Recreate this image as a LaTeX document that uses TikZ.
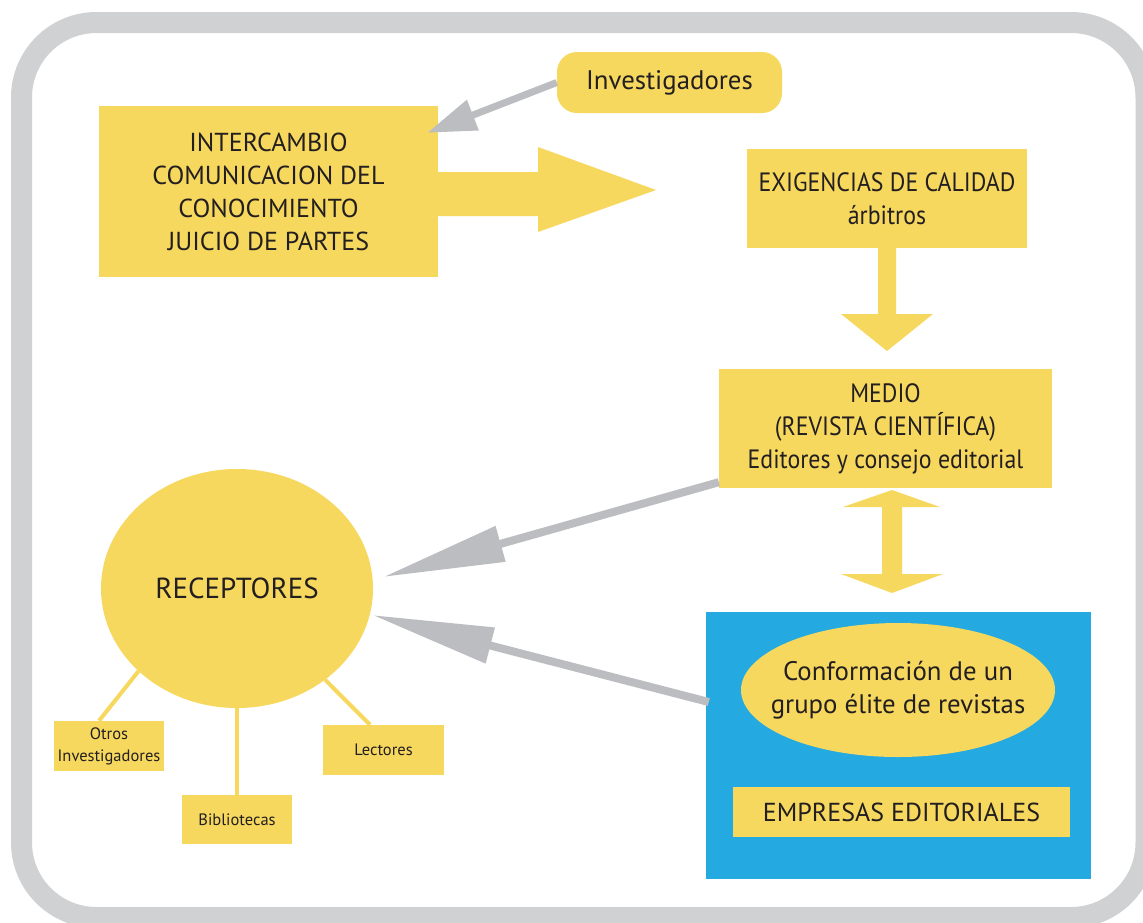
\documentclass[tikz,border=0pt]{standalone}
\usepackage{fontspec}
\setmainfont{PT Sans}
\newfontfamily\condfont{PT Sans}[FakeStretch=0.9]
\usetikzlibrary{arrows.meta,shapes.geometric,calc}
\definecolor{yel}{RGB}{247,216,94}
\definecolor{blu}{RGB}{36,169,224}
\definecolor{framegray}{RGB}{208,209,211}
\definecolor{agray}{RGB}{188,189,193}
\definecolor{txt}{RGB}{35,31,32}
\tikzset{
  ybox/.style={fill=yel, draw=none, inner sep=0pt, text=txt, align=center},
  garrow/.style={draw=agray, line width=7pt, -{Triangle[length=49pt,width=31pt]}},
  gbig/.style={draw=agray, line width=8pt, -{Triangle[length=122pt,width=35pt]}},
  yline/.style={draw=yel, line width=4pt},
  big/.style={font=\fontsize{26}{33}\selectfont},
  cond/.style={font=\condfont\fontsize{26.5}{33}\selectfont},
  small/.style={font=\fontsize{16.5}{22}\selectfont},
  lbl/.style={inner sep=0pt, text=txt, align=center},
}
\begin{document}
\begin{tikzpicture}[x=1pt,y=-1pt]
\useasboundingbox (0,0) rectangle (1143,922);
\clip (0,0) rectangle (1143,922);
\fill[white] (0,0) rectangle (1143,922);
\draw[framegray, line width=21pt, rounded corners=75pt] (21.5,22.5) rectangle (1146,917.5);

% nodes
\node[ybox, font=\fontsize{26.8}{33}\selectfont, rounded corners=20pt, minimum width=225pt, minimum height=61pt] (inv) at (669.5,82.5) {Investigadores};
\node[ybox, big, minimum width=339pt, minimum height=171pt] (inter) at (268.5,191.5)
  {INTERCAMBIO\\COMUNICACION DEL\\CONOCIMIENTO\\JUICIO DE PARTES};
\node[ybox, cond, minimum width=280pt, minimum height=99pt] (exi) at (887,198.5)
  {EXIGENCIAS DE CALIDAD\\árbitros};
\node[ybox, cond, minimum width=333pt, minimum height=119pt] (medio) at (885.5,428.5)
  {MEDIO\\(REVISTA CIENTÍFICA)\\Editores y consejo editorial};
\node[ybox, ellipse, minimum width=272pt, minimum height=239pt] (rec) at (237,588.5) {};
\node[lbl, font=\fontsize{29}{33}\selectfont] (rectxt) at (rec.center) {RECEPTORES};
\node[fill=blu, draw=none, inner sep=0pt, minimum width=385pt, minimum height=267pt] (blue) at (898.5,745.5) {};
\node[ybox, ellipse, minimum width=314pt, minimum height=134pt] (elite) at (898,690) {};
\node[lbl, font=\fontsize{26.8}{33}\selectfont] (elitetxt) at (elite.center) {Conformación de un\\grupo élite de revistas};
\node[ybox, big, minimum width=337pt, minimum height=50pt] (emp) at (901.5,812) {EMPRESAS EDITORIALES};
\node[ybox, small, minimum width=110pt, minimum height=50pt] (otros) at (109,746) {Otros\\Investigadores};
\node[ybox, small, minimum width=110pt, minimum height=49pt] (bib) at (237,819.5) {Bibliotecas};
\node[ybox, small, minimum width=121pt, minimum height=50pt] (lect) at (383.5,750) {Lectores};

% yellow block arrows
\fill[yel] ($(inter.east)+(0,-19.5)$) -- (538,172) -- (538,147) -- (656,190) -- (538,232) -- (538,216) -- ($(inter.east)+(0,24.5)$) -- cycle;
\fill[yel] ($(exi.south)+(-9,0)$) -- (878,314) -- (841,314) -- (887,351) -- (933,314) -- (896,314) -- ($(exi.south)+(9,0)$) -- cycle;
\fill[yel] (892,490) -- (940,507) -- (902,507) -- (902,574) -- (943,574) -- (892,593) -- (841,574) -- (882,574) -- (882,507) -- (843,507) -- cycle;

% connectors to small boxes
\draw[yline] (rec.220) -- ($(otros.north)+(-10,0)$);
\draw[yline] (rec.south) -- (bib.north);
\draw[yline] (rec.-46) -- ($(lect.north)+(-13.5,0)$);

% gray arrows
\draw[garrow] (inv.west) -- ($(inter.north east)+(-11,27)$);
\draw[gbig] ($(medio.south west)+(0,-6)$) -- ($(rec.east)+(10,-11.5)$);
\draw[gbig] ($(blue.west)+(3,-43.5)$) -- ($(rec.east)+(-1,26.5)$);
\end{tikzpicture}
\end{document}
